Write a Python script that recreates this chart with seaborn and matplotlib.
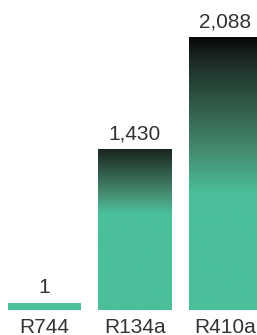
import numpy as np
import pandas as pd
import matplotlib
matplotlib.use("Agg")
import matplotlib.pyplot as plt
from matplotlib.colors import LinearSegmentedColormap
import seaborn as sns

# ---- data ----
refrigerants = ["R744", "R134a", "R410a"]
gwp_values = [1, 1430, 2088]
value_labels = ["1", "1,430", "2,088"]

# ---- style ----
GREEN = "#4bbf9a"
TEXT = "#333333"
grad_span = [0.0, 0.40, 0.58]     # fraction of bar (from top) covered by the dark gradient
grad_start = [1.0, 0.12, 0.0]     # colormap position at bar top

sns.set_theme(style="white")
plt.rcParams["font.family"] = ["Liberation Sans", "DejaVu Sans"]

df = pd.DataFrame({"refrigerant": refrigerants, "gwp": gwp_values})

fig = plt.figure(figsize=(2.57, 3.35), dpi=100)
ax = fig.add_axes([0, 25 / 335, 1, 310 / 335])

# display scale: power scale with a small visible floor for tiny bars
P = 1.445
FLOOR = 1642.0


def fwd(v):
    v = np.asarray(v, dtype=float)
    return np.where(v > 0, np.abs(v) ** P + FLOOR, v)


def inv(y):
    y = np.asarray(y, dtype=float)
    return np.where(y > FLOOR, np.maximum(y - FLOOR, 0) ** (1 / P), 0.0)


sns.barplot(data=df, x="refrigerant", y="gwp", color=GREEN, saturation=1,
            width=0.812, ax=ax, edgecolor="none", linewidth=0)

ax.set_yscale("function", functions=(fwd, inv))
top_val = float(inv(fwd(max(gwp_values)) * 310 / 273))
ax.set_ylim(0, top_val)
xlim = (-44.5 / 90.5, (257 - 44.5) / 90.5)
ax.set_xlim(*xlim)

cmap = LinearSegmentedColormap.from_list(
    "grad", [(0.0, "#070707"), (0.15, "#1c2a24"), (0.40, "#2f5546"),
             (0.72, "#468a70"), (1.0, GREEN)])

fig.canvas.draw()
to_axes = ax.transAxes.inverted()
for patch, span, start in zip(ax.patches, grad_span, grad_start):
    if span <= 0:
        continue
    x0, y0 = patch.get_x(), patch.get_y()
    x1, y1 = x0 + patch.get_width(), y0 + patch.get_height()
    p0 = to_axes.transform(ax.transData.transform((x0, y0)))
    p1 = to_axes.transform(ax.transData.transform((x1, y1)))
    n = 400
    t = np.linspace(0, 1, n)  # 0 at top, 1 at bottom
    vals = np.where(t < span, start + (1 - start) * (t / span), 1.0)
    img = vals.reshape(-1, 1)
    im = ax.imshow(img, cmap=cmap, vmin=0, vmax=1, aspect="auto",
                   extent=(p0[0], p1[0], p0[1], p1[1]), origin="upper",
                   transform=ax.transAxes, interpolation="bilinear", zorder=2)
    im.set_clip_path(patch)

ax.set_ylim(0, top_val)
ax.set_xlim(*xlim)

ax.bar_label(ax.containers[0], labels=value_labels, padding=4,
             fontsize=15, color=TEXT)

ax.set_yticks([])
ax.set_xlabel("")
ax.set_ylabel("")
ax.tick_params(axis="x", length=0, pad=5.5, labelsize=15, labelcolor=TEXT)
for s in ax.spines.values():
    s.set_visible(False)
ax.patch.set_alpha(0)

fig.savefig("out.png", dpi=100)
